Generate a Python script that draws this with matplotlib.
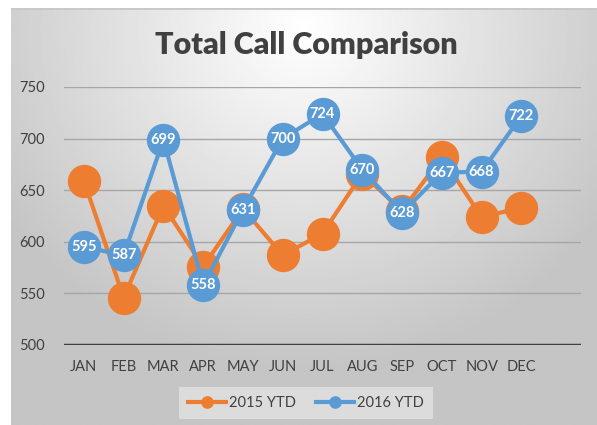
import matplotlib.pyplot as plt
import numpy as np

# Data
months = ["JAN", "FEB", "MAR", "APR", "MAY", "JUN", "JUL", "AUG", "SEP", "OCT", "NOV", "DEC"]
calls_2015 = [659, 546, 635, 576, 632, 587, 608, 666, 630, 682, 624, 633]
calls_2016 = [595, 587, 699, 558, 631, 700, 724, 670, 628, 667, 668, 722]

orange = "#ED7D31"
blue = "#5B9BD5"
txt = "#404040"

plt.rcParams['font.family'] = ['Lato', 'DejaVu Sans']

fig = plt.figure(figsize=(5.97, 4.25), dpi=100)
fig.patch.set_facecolor("white")

# gradient background of the chart area
bg = fig.add_axes([11 / 597, 0, 1 - 11 / 597, 1 - 8 / 425])
yy, xx = np.mgrid[0:1:300j, 0:1:400j]
d = np.sqrt(((xx - 0.5) / 0.75) ** 2 + ((yy - 0.05) / 1.0) ** 2)
shade = np.clip(1.0 - 0.28 * d, 0.77, 1.0)
bg.imshow(shade, cmap="gray", vmin=0, vmax=1, aspect="auto", extent=[0, 1, 0, 1], origin="upper")
bg.axhline(1, color="#c8c8c8", lw=2)
bg.set_axis_off()

ax = fig.add_axes([64 / 597, 1 - 345 / 425, (581 - 64) / 597, (345 - 87) / 425])
ax.patch.set_alpha(0)
x = np.arange(len(months))

ax.plot(x, calls_2015, color=orange, lw=3, marker="o", ms=23, label="2015 YTD", zorder=3)
ax.plot(x, calls_2016, color=blue, lw=3, marker="o", ms=23, label="2016 YTD", zorder=4)
for xi, v in zip(x, calls_2016):
    ax.text(xi, v, str(v), ha="center", va="center", color="white", fontsize=10.5,
            fontweight="bold", zorder=5)

ax.set_xlim(-0.5, 12.5)
ax.set_ylim(500, 750)
ax.set_yticks(range(500, 751, 50))
ax.set_xticks(x)
ax.set_xticklabels(months)
ax.tick_params(length=0, colors=txt, labelsize=10.5)
ax.tick_params(axis="x", pad=11)
ax.tick_params(axis="y", pad=14)
for s in ax.spines.values():
    s.set_visible(False)
ax.grid(axis="y", color="#a6a6a6", lw=1)
ax.axhline(500, color="#404040", lw=2.5, zorder=2)

fig.text(0.513, 1 - 45 / 425, "Total Call Comparison", ha="center", va="center",
         fontsize=22, fontweight="heavy", color=txt)

leg = fig.legend(loc="center", bbox_to_anchor=(306 / 597, 1 - 403 / 425), ncol=2,
                 frameon=True, fontsize=10.5, markerscale=0.35, handlelength=2.6,
                 columnspacing=1.4, handletextpad=0.2, borderpad=0.35)
leg.get_frame().set_facecolor("#e2e2e2")
leg.get_frame().set_edgecolor("none")
leg.get_frame().set_alpha(0.8)
leg.get_frame().set_boxstyle("square")
for t in leg.get_texts():
    t.set_color(txt)

fig.savefig("out.png", dpi=100)
